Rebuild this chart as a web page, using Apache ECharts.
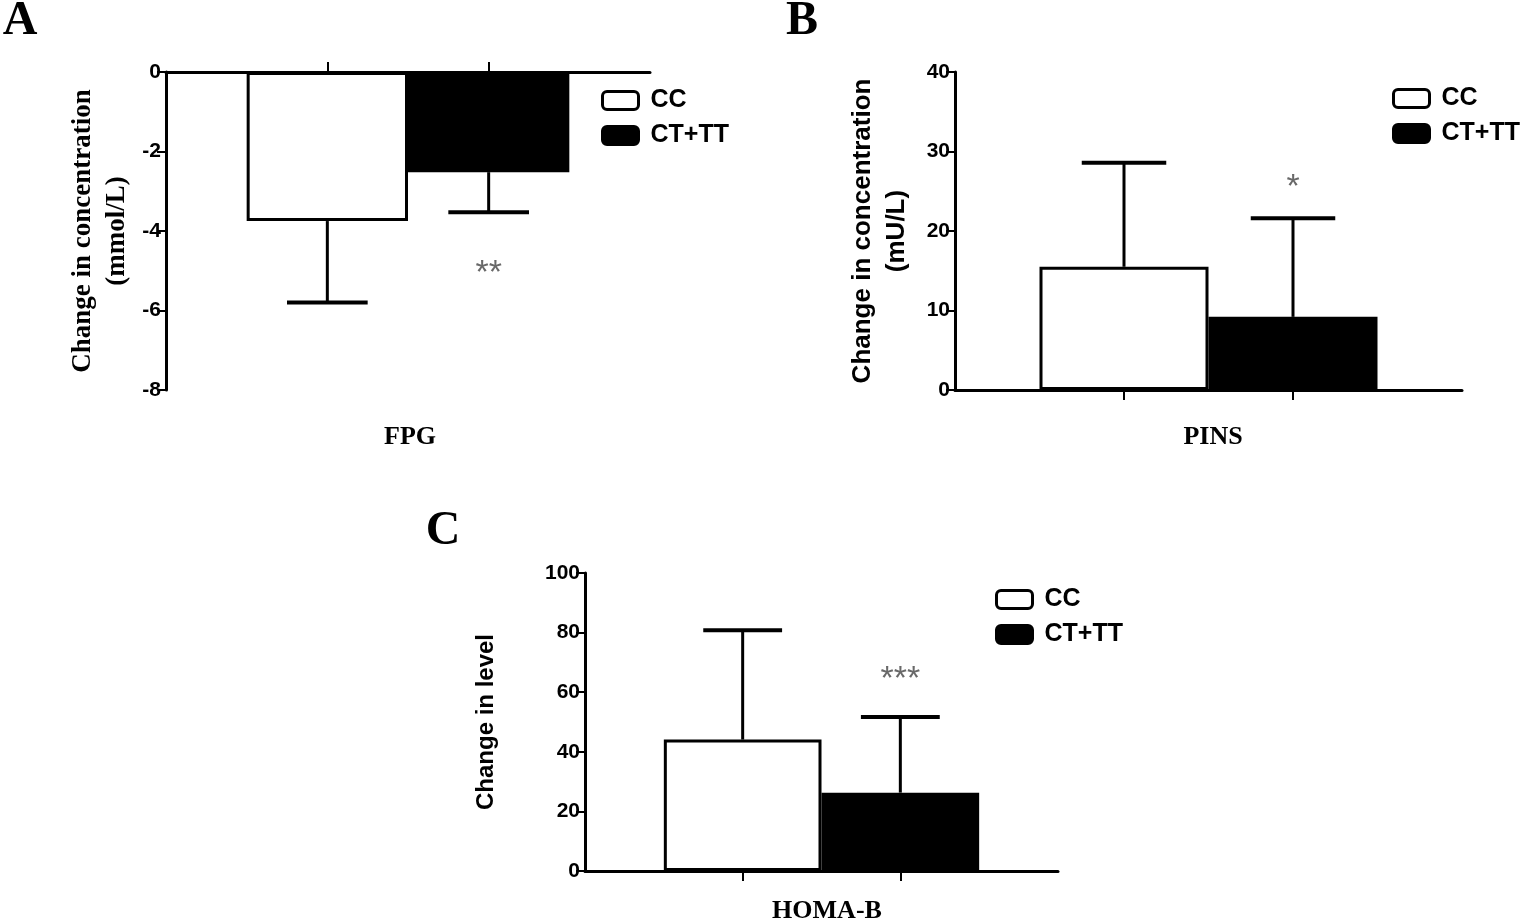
<!DOCTYPE html>
<html>
<head>
<meta charset="utf-8">
<script src="https://cdn.jsdelivr.net/npm/echarts@6/dist/echarts.min.js"></script>
<style>
  html, body { margin: 0; padding: 0; background: #fff; }
  #chart { width: 1535px; height: 924px; }
</style>
</head>
<body>
<div id="chart"></div>
<script>
// groups (legend) and bar slot on the x axis
const groups = ['CC', 'CT+TT'];
const slots = [1, 2];

// panel A: FPG change (mmol/L)
const fpgMean = [-3.75, -2.52];
const fpgSd = [2.05, 1.01];
const fpgSig = ['', '**'];
const fpgSigAt = [null, -4.85];

// panel B: PINS change (mU/L)
const pinsMean = [15.5, 9.2];
const pinsSd = [13.1, 12.4];
const pinsSig = ['', '*'];
const pinsSigAt = [null, 26.6];

// panel C: HOMA-B change
const homaMean = [44.1, 26.3];
const homaSd = [36.7, 25.4];
const homaSig = ['', '***'];
const homaSigAt = [null, 67.4];

const SANS = 'Liberation Sans, Arial, sans-serif';
const SERIF = 'Liberation Serif, Times New Roman, serif';
const fills = ['#ffffff', '#000000'];

const panels = [
    { grid: { left: 166, top: 72, width: 484, height: 318 }, min: -8, max: 0, step: 2,
      mean: fpgMean, sd: fpgSd, sig: fpgSig, sigAt: fpgSigAt, tickUp: true,
      yName: 'Change in concentration\n(mmol/L)', yFont: SERIF, ySize: 27, yGap: 32, xName: 'FPG',
      legend: { left: 596, top: 83 } },
    { grid: { left: 955, top: 72, width: 507, height: 318 }, min: 0, max: 40, step: 10,
      mean: pinsMean, sd: pinsSd, sig: pinsSig, sigAt: pinsSigAt, tickUp: false,
      yName: 'Change in concentration\n(mU/L)', yFont: SANS, ySize: 26, yGap: 41, xName: 'PINS',
      legend: { left: 1387, top: 81 } },
    { grid: { left: 585, top: 573, width: 473, height: 298 }, min: 0, max: 100, step: 20,
      mean: homaMean, sd: homaSd, sig: homaSig, sigAt: homaSigAt, tickUp: false,
      yName: 'Change in level', yFont: SANS, ySize: 24, yGap: 82, xName: 'HOMA-B',
      legend: { left: 990, top: 582 } },
];

const errorBar = (params, api) => {
    const x = api.value(0);
    const m = api.value(1);
    const s = api.value(2);
    const base = api.coord([x, m]);
    const end = api.coord([x, m + Math.sign(m) * s]);
    const half = api.size([1, 0])[0] * 0.25;
    return {
        type: 'group',
        children: [
            { type: 'line', shape: { x1: base[0], y1: base[1], x2: end[0], y2: end[1] },
              style: { stroke: '#000', lineWidth: 3 } },
            { type: 'line', shape: { x1: end[0] - half, y1: end[1], x2: end[0] + half, y2: end[1] },
              style: { stroke: '#000', lineWidth: 4 } },
        ],
    };
};

const grids = [], xAxes = [], yAxes = [], series = [], legends = [];

panels.forEach((p, i) => {
    grids.push(p.grid);
    xAxes.push({
        type: 'value', gridIndex: i, min: 0, max: 3,
        axisLine: { onZero: true, lineStyle: { color: '#000', width: 3 } },
        axisTick: { show: true, inside: p.tickUp, length: 10, customValues: slots,
                    lineStyle: { color: '#000', width: 2 } },
        axisLabel: { show: false },
        splitLine: { show: false },
    });
    yAxes.push({
        type: 'value', gridIndex: i, min: p.min, max: p.max, interval: p.step,
        name: p.yName, nameLocation: 'middle', nameRotate: 90, nameGap: p.yGap,
        nameTextStyle: { fontFamily: p.yFont, fontWeight: 'bold', fontSize: p.ySize, color: '#000',
                         lineHeight: 34 },
        axisLine: { show: true, lineStyle: { color: '#000', width: 3 } },
        axisTick: { show: true, length: 9, lineStyle: { color: '#000', width: 2 } },
        axisLabel: { fontFamily: SANS, fontWeight: 'bold', fontSize: 21, color: '#000', margin: 5 },
        splitLine: { show: false },
    });
    groups.forEach((g, k) => {
        series.push({
            name: g, type: 'bar', xAxisIndex: i, yAxisIndex: i,
            barWidth: p.grid.width / 3, barGap: '-100%',
            data: [[slots[k], p.mean[k]]],
            itemStyle: { color: fills[k], borderColor: '#000', borderWidth: 3 },
            emphasis: { disabled: true },
        });
    });
    series.push({
        type: 'custom', xAxisIndex: i, yAxisIndex: i, z: 5,
        renderItem: errorBar,
        data: slots.map((x, k) => [x, p.mean[k], p.sd[k]]),
    });
    series.push({
        type: 'scatter', xAxisIndex: i, yAxisIndex: i, z: 6,
        symbolSize: 1, itemStyle: { color: 'rgba(0,0,0,0)' },
        data: slots.map((x, k) => ({ value: [x, p.sigAt[k]], sig: p.sig[k] }))
            .filter((d) => d.sig),
        label: {
            show: true, position: 'inside', offset: [0, 9],
            formatter: (d) => d.data.sig,
            fontFamily: SANS, fontSize: 34, color: '#444',
        },
    });
    legends.push({
        left: p.legend.left, top: p.legend.top, orient: 'vertical',
        itemWidth: 36, itemHeight: 18, itemGap: 10,
        icon: 'roundRect',
        textStyle: { fontFamily: SANS, fontWeight: 'bold', fontSize: 25, color: '#000',
                     padding: [0, 0, 0, 7] },
        data: groups.map((g, k) => ({
            name: g,
            itemStyle: { color: fills[k], borderColor: '#000', borderWidth: 3 },
        })),
        selectedMode: false,
    });
});

const textAt = (text, x, y, font, size) => ({
    type: 'text', x: x, y: y,
    style: { text: text, x: 0, y: 0, align: 'center', verticalAlign: 'middle',
             font: `bold ${size}px ${font}`, fill: '#000' },
});

const chart = echarts.init(document.getElementById('chart'));
chart.setOption({
    animation: false,
    backgroundColor: '#fff',
    grid: grids,
    xAxis: xAxes,
    yAxis: yAxes,
    legend: legends,
    series: series,
    graphic: [
        textAt('A', 20, 22, SERIF, 48),
        textAt('B', 802, 22, SERIF, 48),
        textAt('C', 443, 532, SERIF, 48),
        textAt('FPG', 410, 437, SERIF, 26),
        textAt('PINS', 1213, 437, SERIF, 26),
        textAt('HOMA-B', 827, 911, SERIF, 26),
    ],
});
</script>
</body>
</html>
